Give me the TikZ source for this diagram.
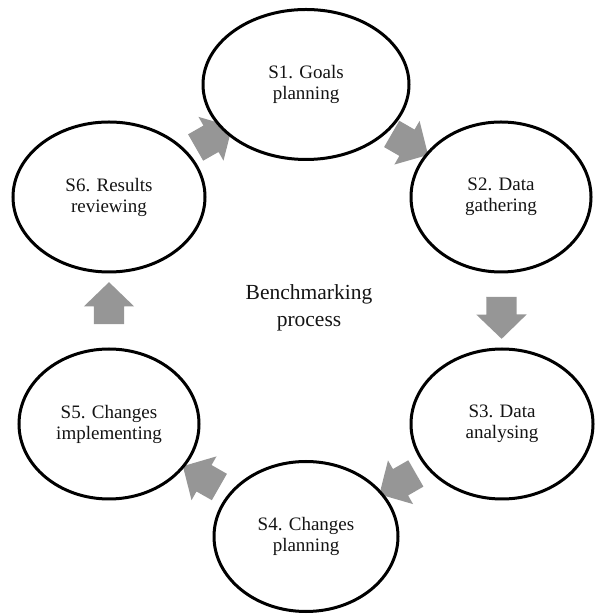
\documentclass[tikz,border=0pt]{standalone}
\usepackage{fontspec}
\setmainfont{Liberation Serif}
\usetikzlibrary{shapes.geometric,shapes.arrows}
\pgfdeclarelayer{background}
\pgfsetlayers{background,main}
\definecolor{arrowgray}{RGB}{150,150,150}
\definecolor{inkblack}{RGB}{20,20,20}
\begin{document}
\begin{tikzpicture}[x=1pt,y=1pt,
  stage/.style={ellipse, draw=black, line width=3pt, fill=white, inner sep=0pt,
    align=center, text=inkblack, font=\fontsize{19}{21}\selectfont, minimum height=150pt},
  flow/.style={single arrow, fill=arrowgray, draw=none, inner sep=0pt,
    minimum height=42pt, text height=15pt, text depth=15pt,
    single arrow head extend=10pt, single arrow tip angle=92,
    sloped, allow upside down, midway},
  hub/.style={align=center, text=inkblack, font=\fontsize{21.5}{27}\selectfont}]
\useasboundingbox (0,0) rectangle (594,615);

% the six stages of the cycle
\node[stage, minimum width=206pt] (s1) at (306,530.5) {S1. Goals\\planning};
\node[stage, minimum width=180pt] (s2) at (501,418) {S2. Data\\gathering};
\node[stage, minimum width=182pt] (s3) at (502,191) {S3. Data\\analysing};
\node[stage, minimum width=184pt] (s4) at (306,78.5) {S4. Changes\\planning};
\node[stage, minimum width=180pt] (s5) at (109,191) {S5. Changes\\implementing};
\node[stage, minimum width=192pt] (s6) at (109,418) {S6. Results\\reviewing};

% centre caption
\node[hub] (hub) at (309,307) {Benchmarking\\process};

% block arrows between stages, tucked behind the ellipses
\begin{pgfonlayer}{background}
\path (s1.center) -- (s2.center) node[flow] (a12) {};
\path (s2.center) -- (s3.center) node[flow] (a23) {};
\path (s3.center) -- (s4.center) node[flow] (a34) {};
\path (s4.center) -- (s5.center) node[flow] (a45) {};
\path (s5.center) -- (s6.center) node[flow] (a56) {};
\path (s6.center) -- (s1.center) node[flow] (a61) {};
\end{pgfonlayer}
\end{tikzpicture}
\end{document}
